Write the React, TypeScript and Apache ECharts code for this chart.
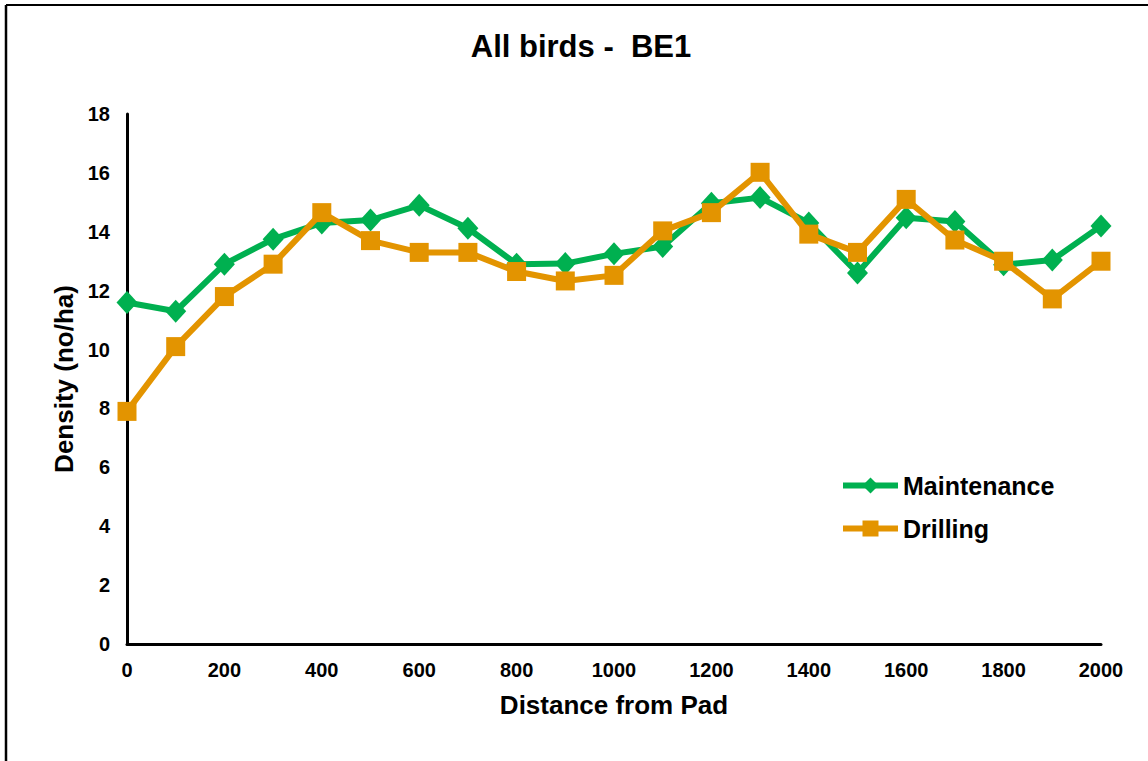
import React, { useEffect, useRef } from "react";
import * as echarts from "echarts";

const distances = [0, 100, 200, 300, 400, 500, 600, 700, 800, 900, 1000, 1100, 1200, 1300, 1400, 1500, 1600, 1700, 1800, 1900, 2000];
const maintenance = [11.6, 11.3, 12.9, 13.75, 14.3, 14.4, 14.9, 14.12, 12.9, 12.92, 13.25, 13.5, 14.97, 15.16, 14.3, 12.6, 14.48, 14.35, 12.88, 13.04, 14.2];
const drilling = [7.9, 10.1, 11.8, 12.9, 14.65, 13.7, 13.3, 13.3, 12.65, 12.33, 12.52, 14.03, 14.65, 16.02, 13.92, 13.3, 15.1, 13.72, 13.0, 11.72, 13.0];

const FONT = "'Liberation Sans', Arial, sans-serif";

export default function App() {
  const ref = useRef<HTMLDivElement>(null);
  useEffect(() => {
    if (!ref.current) return;
    const chart = echarts.init(ref.current, null, { renderer: "svg" });
    const toPairs = (vals: number[]) => distances.map((d, i) => [d, vals[i]]);
    chart.setOption({
      animation: false,
      backgroundColor: "#ffffff",
      textStyle: { fontFamily: FONT },
      title: {
        text: "All birds -  BE1",
        left: 576,
        top: 26,
        textAlign: "center",
        textStyle: { fontFamily: FONT, fontSize: 31, fontWeight: "bold", color: "#000" },
      },
      graphic: [
        { type: "line", shape: { x1: 6, y1: 5, x2: 1148, y2: 5 }, style: { stroke: "#000", lineWidth: 2 } },
        { type: "line", shape: { x1: 6, y1: 5, x2: 6, y2: 761 }, style: { stroke: "#000", lineWidth: 2.5 } },
      ],
      legend: {
        orient: "vertical",
        left: 835,
        top: 468,
        itemWidth: 55,
        itemHeight: 20,
        itemGap: 18,
        lineStyle: { width: 6 },
        textStyle: { fontFamily: FONT, fontSize: 25, fontWeight: "bold", color: "#000" },
        data: ["Maintenance", "Drilling"],
      },
      grid: { left: 127, right: 47, top: 114, bottom: 117, containLabel: false },
      xAxis: {
        type: "value",
        min: 0,
        max: 2000,
        interval: 200,
        name: "Distance from Pad",
        nameLocation: "middle",
        nameGap: 48,
        nameTextStyle: { fontFamily: FONT, fontSize: 26, fontWeight: "bold", color: "#000" },
        axisLine: { show: true, lineStyle: { color: "#000", width: 3 } },
        axisTick: { show: false },
        splitLine: { show: false },
        axisLabel: {
          margin: 16,
          fontFamily: FONT,
          fontSize: 20,
          fontWeight: "bold",
          color: "#000",
          formatter: (v: number) => String(v),
        },
      },
      yAxis: {
        type: "value",
        min: 0,
        max: 18,
        interval: 2,
        name: "Density (no/ha)",
        nameLocation: "middle",
        nameGap: 50,
        nameTextStyle: { fontFamily: FONT, fontSize: 26, fontWeight: "bold", color: "#000" },
        axisLine: { show: true, lineStyle: { color: "#000", width: 3 } },
        axisTick: { show: false },
        splitLine: { show: false },
        axisLabel: { margin: 17, fontFamily: FONT, fontSize: 20, fontWeight: "bold", color: "#000" },
      },
      series: [
        {
          name: "Maintenance",
          type: "line",
          data: toPairs(maintenance),
          symbol: "diamond",
          symbolSize: [21, 23],
          lineStyle: { color: "#00B050", width: 6 },
          itemStyle: { color: "#00B050" },
          z: 2,
        },
        {
          name: "Drilling",
          type: "line",
          data: toPairs(drilling),
          symbol: "rect",
          symbolSize: 19,
          lineStyle: { color: "#E39400", width: 6 },
          itemStyle: { color: "#E39400" },
          z: 3,
        },
      ],
    });
    return () => chart.dispose();
  }, []);
  return (
    <div
      ref={ref}
      style={{ position: "fixed", left: 0, top: 0, width: 1148, height: 761 }}
    />
  );
}
